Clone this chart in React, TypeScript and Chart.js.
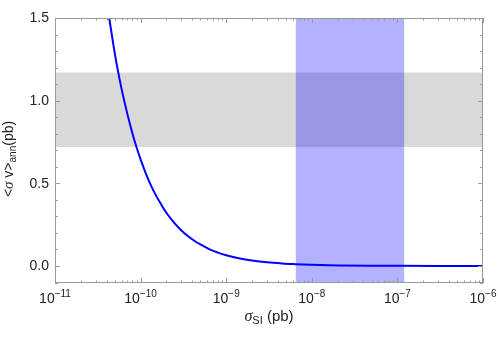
import React, { useEffect, useRef } from "react";
import { Chart, registerables } from "chart.js";

Chart.register(...registerables);

// Curve: <sigma v>_ann (pb) vs sigma_SI (pb)
const SIGMA_SI = [
  4.0e-11, 4.3e-11, 4.8e-11, 5.3e-11, 6.0e-11, 7.0e-11, 8.0e-11, 9.0e-11,
  1.0e-10, 1.15e-10, 1.3e-10, 1.5e-10, 1.75e-10, 2.0e-10, 2.5e-10, 3.0e-10,
  3.5e-10, 4.2e-10, 5.0e-10, 6.5e-10, 8.0e-10, 1.0e-9, 1.45e-9, 2.0e-9,
  3.0e-9, 4.5e-9, 6.4e-9, 1.0e-8, 2.0e-8, 5.0e-8, 1.0e-7, 3.0e-7, 1.0e-6,
];
const SIGMA_V = [
  1.61, 1.5, 1.34, 1.21, 1.07, 0.92, 0.805, 0.715,
  0.645, 0.56, 0.495, 0.43, 0.37, 0.322, 0.258, 0.215,
  0.184, 0.154, 0.13, 0.099, 0.081, 0.065, 0.045, 0.033,
  0.022, 0.015, 0.011, 0.007, 0.0035, 0.0014, 0.0007, 0.0002, 0.0001,
];

// Bands
const GRAY_BAND = [0.72, 1.17]; // y range
const BLUE_BAND = [6.5e-9, 1.2e-7]; // x range

// Axes
const X_RANGE = [1e-11, 1e-6];
const Y_RANGE = [-0.103, 1.5];
const X_DECADES = [-11, -10, -9, -8, -7, -6];
const Y_MAJOR = [0, 0.5, 1.0, 1.5];
const Y_MAJOR_LABELS = ["0.0", "0.5", "1.0", "1.5"];
const Y_MINOR = [-0.1, 0.1, 0.2, 0.3, 0.4, 0.6, 0.7, 0.8, 0.9, 1.1, 1.2, 1.3, 1.4];

const FONT = "'Liberation Sans', Arial, sans-serif";
const FRAME = "#999999";
const TEXT = "#222222";

type Part = { t: string; size: number; dy: number; italic?: boolean; serif?: boolean };

function partFont(p: Part) {
  return `${p.italic ? "italic " : ""}${p.size}px ${p.serif ? "'Liberation Serif', serif" : FONT}`;
}
function measureParts(ctx: CanvasRenderingContext2D, parts: Part[]) {
  let w = 0;
  for (const p of parts) {
    ctx.font = partFont(p);
    w += ctx.measureText(p.t).width;
  }
  return w;
}
function drawParts(ctx: CanvasRenderingContext2D, parts: Part[], x: number, y: number) {
  let cx = x;
  ctx.textAlign = "left";
  ctx.textBaseline = "alphabetic";
  for (const p of parts) {
    ctx.font = partFont(p);
    ctx.fillText(p.t, cx, y + p.dy);
    cx += ctx.measureText(p.t).width;
  }
}

const bandsPlugin = {
  id: "bands",
  beforeDatasetsDraw(chart: any) {
    const { ctx, chartArea: a, scales } = chart;
    const x = scales.x;
    const y = scales.y;
    ctx.save();
    ctx.fillStyle = "#d9d9d9";
    const gy1 = y.getPixelForValue(GRAY_BAND[1]);
    const gy0 = y.getPixelForValue(GRAY_BAND[0]);
    ctx.fillRect(a.left, gy1, a.right - a.left, gy0 - gy1);
    ctx.fillStyle = "rgba(0,0,255,0.3)";
    const bx0 = x.getPixelForValue(BLUE_BAND[0]);
    const bx1 = x.getPixelForValue(BLUE_BAND[1]);
    ctx.fillRect(bx0, a.top, bx1 - bx0, a.bottom - a.top);
    ctx.restore();
  },
};

const framePlugin = {
  id: "frame",
  afterDraw(chart: any) {
    const { ctx, chartArea: a, scales } = chart;
    const x = scales.x;
    const y = scales.y;
    ctx.save();
    ctx.strokeStyle = FRAME;
    ctx.lineWidth = 1;
    ctx.strokeRect(a.left + 0.5, a.top + 0.5, a.right - a.left - 1, a.bottom - a.top - 1);

    const line = (x0: number, y0: number, x1: number, y1: number) => {
      ctx.beginPath();
      ctx.moveTo(x0, y0);
      ctx.lineTo(x1, y1);
      ctx.stroke();
    };

    // x ticks
    for (let i = 0; i < X_DECADES.length; i++) {
      const d = X_DECADES[i];
      const px = Math.round(x.getPixelForValue(Math.pow(10, d))) + 0.5;
      line(px, a.bottom, px, a.bottom - 5);
      line(px, a.top, px, a.top + 5);
      if (i < X_DECADES.length - 1) {
        for (let m = 2; m <= 9; m++) {
          const mx = Math.round(x.getPixelForValue(m * Math.pow(10, d))) + 0.5;
          line(mx, a.bottom, mx, a.bottom - 2.5);
          line(mx, a.top, mx, a.top + 2.5);
        }
      }
    }
    // y ticks
    for (const v of Y_MAJOR) {
      const py = Math.round(y.getPixelForValue(v)) + 0.5;
      line(a.left, py, a.left + 5, py);
      line(a.right, py, a.right - 5, py);
    }
    for (const v of Y_MINOR) {
      const py = Math.round(y.getPixelForValue(v)) + 0.5;
      line(a.left, py, a.left + 3, py);
      line(a.right, py, a.right - 3, py);
    }

    // y tick labels
    ctx.fillStyle = TEXT;
    ctx.font = `14px ${FONT}`;
    ctx.textAlign = "right";
    ctx.textBaseline = "middle";
    Y_MAJOR.forEach((v, i) => {
      ctx.fillText(Y_MAJOR_LABELS[i], a.left - 6, y.getPixelForValue(v) + 0.5);
    });

    // x tick labels
    for (const d of X_DECADES) {
      const parts: Part[] = [
        { t: "10", size: 14, dy: 0 },
        { t: "\u2212" + String(-d), size: 10, dy: -6 },
      ];
      const w = measureParts(ctx, parts);
      const px = x.getPixelForValue(Math.pow(10, d));
      drawParts(ctx, parts, px - w / 2, a.bottom + 20);
    }

    // x title
    const xt: Part[] = [
      { t: "\u03c3", size: 16, dy: 0, italic: true, serif: true },
      { t: "SI", size: 11, dy: 3 },
      { t: " (pb)", size: 15, dy: 0 },
    ];
    const xw = measureParts(ctx, xt);
    drawParts(ctx, xt, (a.left + a.right) / 2 - xw / 2, a.bottom + 38);

    // y title
    const yt: Part[] = [
      { t: "<", size: 14, dy: 0 },
      { t: "\u03c3", size: 15, dy: 0, italic: true, serif: true },
      { t: " v>", size: 14, dy: 0 },
      { t: "ann", size: 10, dy: 3 },
      { t: "(pb)", size: 14, dy: 0 },
    ];
    const yw = measureParts(ctx, yt);
    ctx.translate(13, 159);
    ctx.rotate(-Math.PI / 2);
    drawParts(ctx, yt, -yw / 2, 0);
    ctx.restore();
  },
};

export default function App() {
  const ref = useRef<HTMLCanvasElement | null>(null);
  useEffect(() => {
    if (!ref.current) return;
    const chart = new Chart(ref.current, {
      type: "line",
      data: {
        datasets: [
          {
            data: SIGMA_SI.map((v, i) => ({ x: v, y: SIGMA_V[i] })),
            borderColor: "#0000ff",
            borderWidth: 2,
            pointRadius: 0,
            fill: false,
            cubicInterpolationMode: "monotone",
          },
        ],
      },
      options: {
        animation: false,
        responsive: false,
        layout: { padding: { left: 55, top: 18, right: 15, bottom: 54 } },
        plugins: { legend: { display: false }, tooltip: { enabled: false } },
        scales: {
          x: { type: "logarithmic", min: X_RANGE[0], max: X_RANGE[1], display: false },
          y: { type: "linear", min: Y_RANGE[0], max: Y_RANGE[1], display: false },
        },
      },
      plugins: [bandsPlugin, framePlugin],
    } as any);
    return () => chart.destroy();
  }, []);
  return (
    <canvas
      ref={ref}
      width={498}
      height={337}
      style={{ position: "fixed", left: 0, top: 0, display: "block", width: 498, height: 337 }}
    />
  );
}
